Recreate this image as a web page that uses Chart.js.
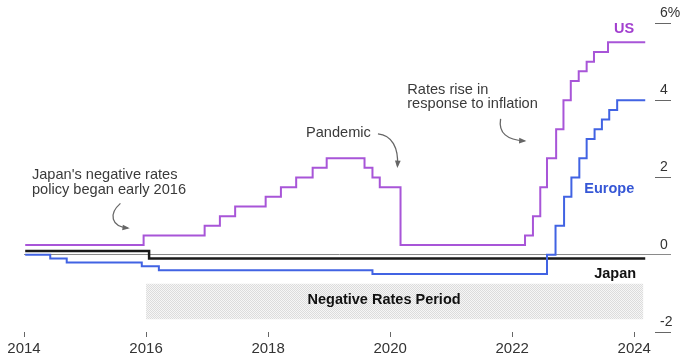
<!DOCTYPE html>
<html>
<head>
<meta charset="utf-8">
<script src="https://cdn.jsdelivr.net/npm/chart.js@4"></script>
<style>
  html, body { margin: 0; padding: 0; background: #fff; }
</style>
</head>
<body>
<canvas id="rateChart" width="683" height="357"></canvas>
<script>
// Policy rates in %, dates as decimal years (each value holds from its date on)
const usDates = [2014.02, 2015.96, 2016.96, 2017.21, 2017.46, 2017.96, 2018.21, 2018.46, 2018.73, 2018.96,
  2019.58, 2019.71, 2019.83, 2020.17, 2022.21, 2022.34, 2022.46, 2022.57, 2022.72, 2022.84, 2022.96,
  2023.09, 2023.22, 2023.34, 2023.57, 2024.18];
const usRates = [0.25, 0.5, 0.75, 1.0, 1.25, 1.5, 1.75, 2.0, 2.25, 2.5,
  2.25, 2.0, 1.75, 0.25, 0.5, 1.0, 1.75, 2.5, 3.25, 4.0, 4.5,
  4.75, 5.0, 5.25, 5.5, 5.5];

const euDates = [2014.02, 2014.43, 2014.70, 2015.93, 2016.21, 2019.71, 2022.57, 2022.71, 2022.85, 2022.97,
  2023.10, 2023.22, 2023.35, 2023.47, 2023.59, 2023.72, 2024.18];
const euRates = [0.0, -0.1, -0.2, -0.3, -0.4, -0.5, 0.0, 0.75, 1.5, 2.0,
  2.5, 3.0, 3.25, 3.5, 3.75, 4.0, 4.0];

const jpDates = [2014.02, 2016.05, 2024.18];
const jpRates = [0.1, -0.1, -0.1];

// negative rates period band
const shadeDates = [2016.0, 2024.15];
const shadeTop = [-0.75, -0.75];
const shadeBottom = [-1.67, -1.67];

const yearTicks = [2014, 2016, 2018, 2020, 2022, 2024];
const rateTicks = [-2, 0, 2, 4, 6];

const FONT = "'Liberation Sans', Arial, sans-serif";

function toPoints(xs, ys) {
  return xs.map((x, i) => ({x: x, y: ys[i]}));
}

// dotted fill for the shaded band
const pc = document.createElement('canvas');
pc.width = 2; pc.height = 2;
const pctx = pc.getContext('2d');
pctx.fillStyle = '#f6f6f6';
pctx.fillRect(0, 0, 2, 2);
pctx.fillStyle = '#dcdcdc';
pctx.fillRect(0, 0, 1, 1);
pctx.fillRect(1, 1, 1, 1);

const ctx = document.getElementById('rateChart').getContext('2d');
const shadePattern = ctx.createPattern(pc, 'repeat');

// notes and arrows, anchored in data units (year, rate)
const notes = [
  {lines: ["Japan's negative rates", 'policy began early 2016'], x: 2014.13, y: 2.06},
  {lines: ['Pandemic'], x: 2018.62, y: 3.15},
  {lines: ['Rates rise in', 'response to inflation'], x: 2020.28, y: 4.27}
];
const arrows = [
  [[2015.58, 1.33], [2015.38, 1.05], [2015.43, 0.74], [2015.70, 0.69]],
  [[2019.80, 3.13], [2020.03, 3.10], [2020.14, 2.76], [2020.12, 2.30]],
  [[2021.81, 3.52], [2021.77, 3.15], [2021.92, 2.97], [2022.20, 2.95]]
];
const seriesLabels = [
  {text: 'US', x: 2024.0, y: 5.84, color: '#a23fcf'},
  {text: 'Europe', x: 2024.0, y: 1.70, color: '#3657d6'},
  {text: 'Japan', x: 2024.03, y: -0.50, color: '#111'}
];

const notesPlugin = {
  id: 'notes',
  afterDraw(chart) {
    const c = chart.ctx;
    const xs = chart.scales.x, ys = chart.scales.y;
    c.save();
    c.textBaseline = 'middle';

    c.font = '14.6px ' + FONT;
    c.fillStyle = '#3a3a3a';
    c.textAlign = 'left';
    notes.forEach(n => {
      n.lines.forEach((t, i) => {
        c.fillText(t, xs.getPixelForValue(n.x), ys.getPixelForValue(n.y) + i * 14.5);
      });
    });

    c.strokeStyle = '#666';
    c.fillStyle = '#666';
    c.lineWidth = 1.3;
    arrows.forEach(a => {
      const p = a.map(q => [xs.getPixelForValue(q[0]), ys.getPixelForValue(q[1])]);
      c.beginPath();
      c.moveTo(p[0][0], p[0][1]);
      c.bezierCurveTo(p[1][0], p[1][1], p[2][0], p[2][1], p[3][0], p[3][1]);
      c.stroke();
      const ang = Math.atan2(p[3][1] - p[2][1], p[3][0] - p[2][0]);
      const s = 6;
      c.beginPath();
      c.moveTo(p[3][0] + Math.cos(ang) * 2, p[3][1] + Math.sin(ang) * 2);
      c.lineTo(p[3][0] - Math.cos(ang - 0.5) * s, p[3][1] - Math.sin(ang - 0.5) * s);
      c.lineTo(p[3][0] - Math.cos(ang + 0.5) * s, p[3][1] - Math.sin(ang + 0.5) * s);
      c.closePath();
      c.fill();
    });

    c.font = 'bold 14.5px ' + FONT;
    c.textAlign = 'right';
    seriesLabels.forEach(l => {
      c.fillStyle = l.color;
      c.fillText(l.text, xs.getPixelForValue(l.x), ys.getPixelForValue(l.y));
    });

    c.fillStyle = '#111';
    c.textAlign = 'center';
    c.fillText('Negative Rates Period', xs.getPixelForValue(2019.9), ys.getPixelForValue(-1.17));
    c.restore();
  }
};

new Chart(ctx, {
  type: 'line',
  data: {
    datasets: [
      {label: 'US', data: toPoints(usDates, usRates), borderColor: '#a855d8', borderWidth: 2, stepped: 'before', pointRadius: 0, fill: false},
      {label: 'Europe', data: toPoints(euDates, euRates), borderColor: '#4163e3', borderWidth: 2, stepped: 'before', pointRadius: 0, fill: false},
      {label: 'Japan', data: toPoints(jpDates, jpRates), borderColor: '#1a1a1a', borderWidth: 2.5, stepped: 'before', pointRadius: 0, fill: false},
      {label: 'shadeTop', data: toPoints(shadeDates, shadeTop), borderWidth: 0, borderColor: 'rgba(0,0,0,0)', pointRadius: 0, fill: '+1', backgroundColor: shadePattern},
      {label: 'shadeBottom', data: toPoints(shadeDates, shadeBottom), borderWidth: 0, borderColor: 'rgba(0,0,0,0)', pointRadius: 0, fill: false}
    ]
  },
  options: {
    responsive: false,
    animation: false,
    devicePixelRatio: 1,
    layout: {padding: {left: 24, top: 23, right: 0, bottom: 0}},
    plugins: {legend: {display: false}, tooltip: {enabled: false}},
    scales: {
      x: {
        type: 'linear',
        min: 2014,
        max: 2024.34,
        afterBuildTicks: s => { s.ticks = yearTicks.map(v => ({value: v})); },
        afterFit: s => { s.height = 25; },
        border: {display: false},
        grid: {drawOnChartArea: false, drawTicks: true, tickLength: 5, tickColor: '#666'},
        ticks: {
          font: {family: FONT, size: 15},
          color: '#333',
          padding: 3,
          maxRotation: 0,
          callback: v => String(v)
        }
      },
      y: {
        position: 'right',
        min: -2,
        max: 6,
        afterBuildTicks: s => { s.ticks = rateTicks.map(v => ({value: v})); },
        afterFit: s => { s.width = 28; },
        border: {display: false},
        grid: {
          drawTicks: true,
          tickLength: 16,
          color: c => (c.tick && c.tick.value === 0) ? '#8a8a8a' : 'rgba(0,0,0,0)',
          tickColor: c => (c.tick && c.tick.value === 0) ? '#8a8a8a' : '#666'
        },
        ticks: {
          font: {family: FONT, size: 14},
          color: '#333',
          padding: -11,
          labelOffset: -10,
          callback: v => v === 6 ? '6%' : String(v)
        }
      }
    }
  },
  plugins: [notesPlugin]
});
</script>
</body>
</html>
